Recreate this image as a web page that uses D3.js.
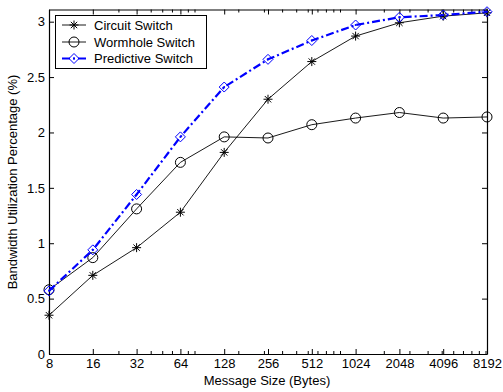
<!DOCTYPE html>
<html><head><meta charset="utf-8">
<script src="https://cdn.jsdelivr.net/npm/d3@7"></script>
<style>body{margin:0;background:#fff}svg{display:block}text{font-family:"Liberation Sans",Arial,sans-serif}</style>
</head><body><svg id="c" width="503" height="392"></svg>
<script>
const sizes = [8,16,32,64,128,256,512,1024,2048,4096,8192];
const xTickLabels = ["8","16","32","64","128","256","512","1024","2048","4096","8192"];
const yTicks = [0,0.5,1,1.5,2,2.5,3];
const yTickLabels = ["0","0.5","1","1.5","2","2.5","3"];
const circuit = [0.35,0.71,0.96,1.28,1.82,2.30,2.64,2.87,2.99,3.05,3.08];
const wormhole = [0.58,0.87,1.31,1.73,1.96,1.95,2.07,2.13,2.18,2.13,2.14];
const predictive = [0.57,0.94,1.44,1.96,2.41,2.66,2.83,2.97,3.04,3.06,3.09];
const seriesNames = ["Circuit Switch","Wormhole Switch","Predictive Switch"];

const svg = d3.select("#c");
const L=49,R=487,T=9.5,B=354;
const x = d3.scaleLog().base(2).domain([8,8192]).range([L,R]);
const y = d3.scaleLinear().domain([0,3.11]).range([B,T]);

const minor=[];
[1,10,100,1000].forEach(p=>{for(let m=2;m<=9;m++){const v=m*p*8; if(v>8&&v<8192&&!sizes.includes(v)) minor.push(v);}});
minor.push(80,800,8000);
const g=svg.append("g");
const xb=d3.axisBottom(x).tickValues(sizes).tickFormat((d,i)=>xTickLabels[i]).tickSizeInner(-5).tickSizeOuter(0).tickPadding(5);
g.append("g").attr("transform",`translate(0,${B})`).call(xb);
const xt=d3.axisTop(x).tickValues(sizes).tickFormat("").tickSizeInner(-5).tickSizeOuter(0);
g.append("g").attr("transform",`translate(0,${T})`).call(xt);
g.append("g").attr("transform",`translate(0,${B})`).call(d3.axisBottom(x).tickValues(minor).tickFormat("").tickSizeInner(-3).tickSizeOuter(0)).select(".domain").remove();
g.append("g").attr("transform",`translate(0,${T})`).call(d3.axisTop(x).tickValues(minor).tickFormat("").tickSizeInner(-3).tickSizeOuter(0)).select(".domain").remove();
const yl=d3.axisLeft(y).tickValues(yTicks).tickFormat((d,i)=>yTickLabels[i]).tickSizeInner(-5).tickSizeOuter(0).tickPadding(4);
g.append("g").attr("transform",`translate(${L},0)`).call(yl);
g.append("g").attr("transform",`translate(${R},0)`).call(d3.axisRight(y).tickValues(yTicks).tickFormat("").tickSizeInner(-5).tickSizeOuter(0));
g.selectAll(".domain").attr("stroke","#000").attr("stroke-width",1.2);
g.selectAll(".tick line").attr("stroke","#000");
g.selectAll(".tick text").attr("font-size",13).attr("fill","#000").attr("font-family","Liberation Sans, Arial, sans-serif");

const line=d3.line().x((d,i)=>x(sizes[i])).y(d=>y(d));
const plot=svg.append("g");
function star(sel,cx,cy,r){
  const p=[];
  for(let k=0;k<4;k++){const a=k*Math.PI/4; p.push(`M${cx-r*Math.cos(a)},${cy-r*Math.sin(a)}L${cx+r*Math.cos(a)},${cy+r*Math.sin(a)}`);}
  sel.append("path").attr("d",p.join("")).attr("stroke","#000").attr("stroke-width",1).attr("fill","none");
}
function diamond(sel,cx,cy,r){
  sel.append("path").attr("d",`M${cx},${cy-r}L${cx+r},${cy}L${cx},${cy+r}L${cx-r},${cy}Z`).attr("stroke","#0000ff").attr("stroke-width",1).attr("fill","none");
}
plot.append("path").datum(circuit).attr("d",line).attr("fill","none").attr("stroke","#000").attr("stroke-width",0.9);
circuit.forEach((v,i)=>star(plot,x(sizes[i]),y(v),4.5));
plot.append("path").datum(wormhole).attr("d",line).attr("fill","none").attr("stroke","#000").attr("stroke-width",0.9);
wormhole.forEach((v,i)=>plot.append("circle").attr("cx",x(sizes[i])).attr("cy",y(v)).attr("r",5).attr("fill","none").attr("stroke","#000").attr("stroke-width",1));
plot.append("path").datum(predictive).attr("d",line).attr("fill","none").attr("stroke","#0000ff").attr("stroke-width",2.2).attr("stroke-dasharray","8,3,2,3");
predictive.forEach((v,i)=>{diamond(plot,x(sizes[i]),y(v),5);plot.append("circle").attr("cx",x(sizes[i])).attr("cy",y(v)).attr("r",1).attr("fill","#0000ff");});

const lg=svg.append("g");
lg.append("rect").attr("x",55.5).attr("y",15.5).attr("width",151).attr("height",53).attr("fill","#fff").attr("stroke","#000").attr("stroke-width",1);
const rows=[25,42,58.5];
lg.append("line").attr("x1",62).attr("x2",86).attr("y1",rows[0]).attr("y2",rows[0]).attr("stroke","#000").attr("stroke-width",0.9);
star(lg,74,rows[0],4.5);
lg.append("line").attr("x1",62).attr("x2",86).attr("y1",rows[1]).attr("y2",rows[1]).attr("stroke","#000").attr("stroke-width",0.9);
lg.append("circle").attr("cx",74).attr("cy",rows[1]).attr("r",5).attr("fill","none").attr("stroke","#000");
lg.append("line").attr("x1",62).attr("x2",86).attr("y1",rows[2]).attr("y2",rows[2]).attr("stroke","#0000ff").attr("stroke-width",2.2).attr("stroke-dasharray","8,3,2,3");
diamond(lg,74,rows[2],5);
lg.append("circle").attr("cx",74).attr("cy",rows[2]).attr("r",1).attr("fill","#0000ff");
seriesNames.forEach((n,i)=>lg.append("text").attr("x",94).attr("y",rows[i]+4.7).attr("font-size",13).text(n));

svg.append("text").attr("x",267).attr("y",385).attr("text-anchor","middle").attr("font-size",13).text("Message Size (Bytes)");
svg.append("text").attr("transform","translate(17,182) rotate(-90)").attr("text-anchor","middle").attr("font-size",13).text("Bandwidth Utilization Percentage (%)");
</script></body></html>
